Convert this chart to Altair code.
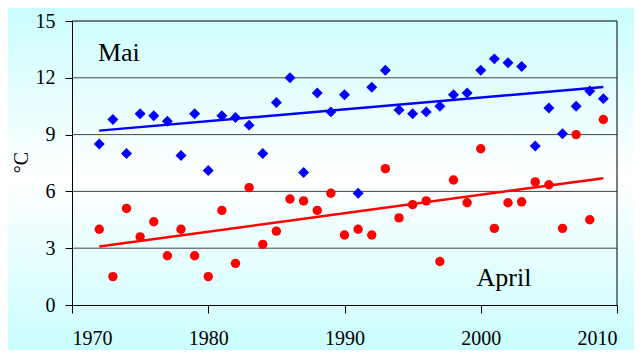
import altair as alt
import pandas as pd

# ---- data ----
years = list(range(1972, 2010))
mai = [8.5, 9.8, 8.0, 10.1, 10.0, 9.7, 7.9, 10.1, 7.1, 10.0, 9.9, 9.5, 8.0, 10.7,
       12.0, 7.0, 11.2, 10.2, 11.1, 5.9, 11.5, 12.4, 10.3, 10.1, 10.2, 10.5, 11.1,
       11.2, 12.4, 13.0, 12.8, 12.6, 8.4, 10.4, 9.05, 10.5, 11.3, 10.9]
april = [4.0, 1.5, 5.1, 3.6, 4.4, 2.6, 4.0, 2.6, 1.5, 5.0, 2.2, 6.2, 3.2, 3.9,
         5.6, 5.5, 5.0, 5.9, 3.7, 4.0, 3.7, 7.2, 4.6, 5.3, 5.5, 2.3, 6.6, 5.4,
         8.25, 4.05, 5.4, 5.45, 6.5, 6.35, 4.05, 9.0, 4.5, 9.8]
trend_years = [1972, 2009]
mai_trend = [9.21, 11.52]
april_trend = [3.09, 6.70]
grid_values = [3, 6, 9, 12]
top_value = [15]
right_year = [2010]
x_ticks = [1970, 1980, 1990, 2000, 2010]
y_ticks = [0, 3, 6, 9, 12, 15]
label_text = ["Mai", "April"]
label_year = [1971.9, 2001.7]
label_value = [12.88, 1.02]

W, H = 545, 284
FONT = "Liberation Serif"

df = pd.DataFrame({"year": years, "mai": mai, "april": april})
trend = pd.DataFrame({"year": trend_years, "mai": mai_trend, "april": april_trend})

xs = alt.Scale(domain=[1970, 2010], nice=False, zero=False)
ys = alt.Scale(domain=[0, 15], nice=False)

common = dict(labelFont=FONT, labelFontSize=20, labelColor="black",
              domainColor="black", tickColor="black", domainWidth=1, tickWidth=1,
              grid=False, zindex=1)
xax = alt.Axis(values=x_ticks, format="d", title=None, tickSize=8,
               labelPadding=15, **common)
yax = alt.Axis(values=y_ticks, title="°C", tickSize=7, labelPadding=10,
               titleAngle=270, titleX=-51, titleY=141, titleAlign="center",
               titleBaseline="middle", titleFont=FONT, titleFontSize=20,
               titleFontWeight="normal", titleColor="black", **common)

bg = alt.Chart(pd.DataFrame({"a": [0]})).mark_rect(
    color=alt.LinearGradient(
        gradient="linear", x1=0, x2=0, y1=0, y2=1,
        stops=[alt.GradientStop(offset=0, color="#C8FDFD"),
               alt.GradientStop(offset=0.5, color="#FFFFFF"),
               alt.GradientStop(offset=1, color="#C8FDFD")])
).encode(x=alt.value(-72), x2=alt.value(W + 30), y=alt.value(-21), y2=alt.value(H + 50))

grid = alt.Chart(pd.DataFrame({"v": grid_values})).mark_rule(
    color="#444444", strokeWidth=1).encode(y=alt.Y("v:Q", scale=ys, axis=yax))
topline = alt.Chart(pd.DataFrame({"v": top_value})).mark_rule(
    color="black", strokeWidth=1).encode(y=alt.Y("v:Q", scale=ys))
rightline = alt.Chart(pd.DataFrame({"x": right_year})).mark_rule(
    color="black", strokeWidth=1).encode(x=alt.X("x:Q", scale=xs, axis=xax))

base = alt.Chart(df)
tbase = alt.Chart(trend)
mai_line = tbase.mark_line(color="#0000FF", strokeWidth=2.5).encode(
    x=alt.X("year:Q", scale=xs), y=alt.Y("mai:Q", scale=ys))
apr_line = tbase.mark_line(color="#FF0000", strokeWidth=2.5).encode(
    x=alt.X("year:Q", scale=xs), y=alt.Y("april:Q", scale=ys))
mai_pts = base.mark_point(shape="diamond", filled=True, size=120, opacity=1,
                          color="#0000FF").encode(
    x=alt.X("year:Q", scale=xs), y=alt.Y("mai:Q", scale=ys))
apr_pts = base.mark_circle(size=88, opacity=1, color="#FF0000").encode(
    x=alt.X("year:Q", scale=xs), y=alt.Y("april:Q", scale=ys))

labels_df = pd.DataFrame({"t": label_text, "x": label_year, "y": label_value})
lab_mai = alt.Chart(labels_df.iloc[[0]]).mark_text(
    font=FONT, fontSize=26, color="black", align="left", baseline="alphabetic").encode(
    x=alt.X("x:Q", scale=xs), y=alt.Y("y:Q", scale=ys), text="t:N")
lab_apr = alt.Chart(labels_df.iloc[[1]]).mark_text(
    font=FONT, fontSize=26, color="black", align="center", baseline="alphabetic").encode(
    x=alt.X("x:Q", scale=xs), y=alt.Y("y:Q", scale=ys), text="t:N")

chart = alt.layer(bg, grid, topline, rightline, mai_line, apr_line, mai_pts, apr_pts,
                  lab_mai, lab_apr).properties(
    width=W, height=H,
    autosize=alt.AutoSizeParams(type="none"),
    padding={"left": 64, "top": 13, "right": 17, "bottom": 45},
    background="#CCFFFF",
).configure_view(stroke=None)

chart.save("out.html", embed_options={"renderer": "svg", "actions": False})
